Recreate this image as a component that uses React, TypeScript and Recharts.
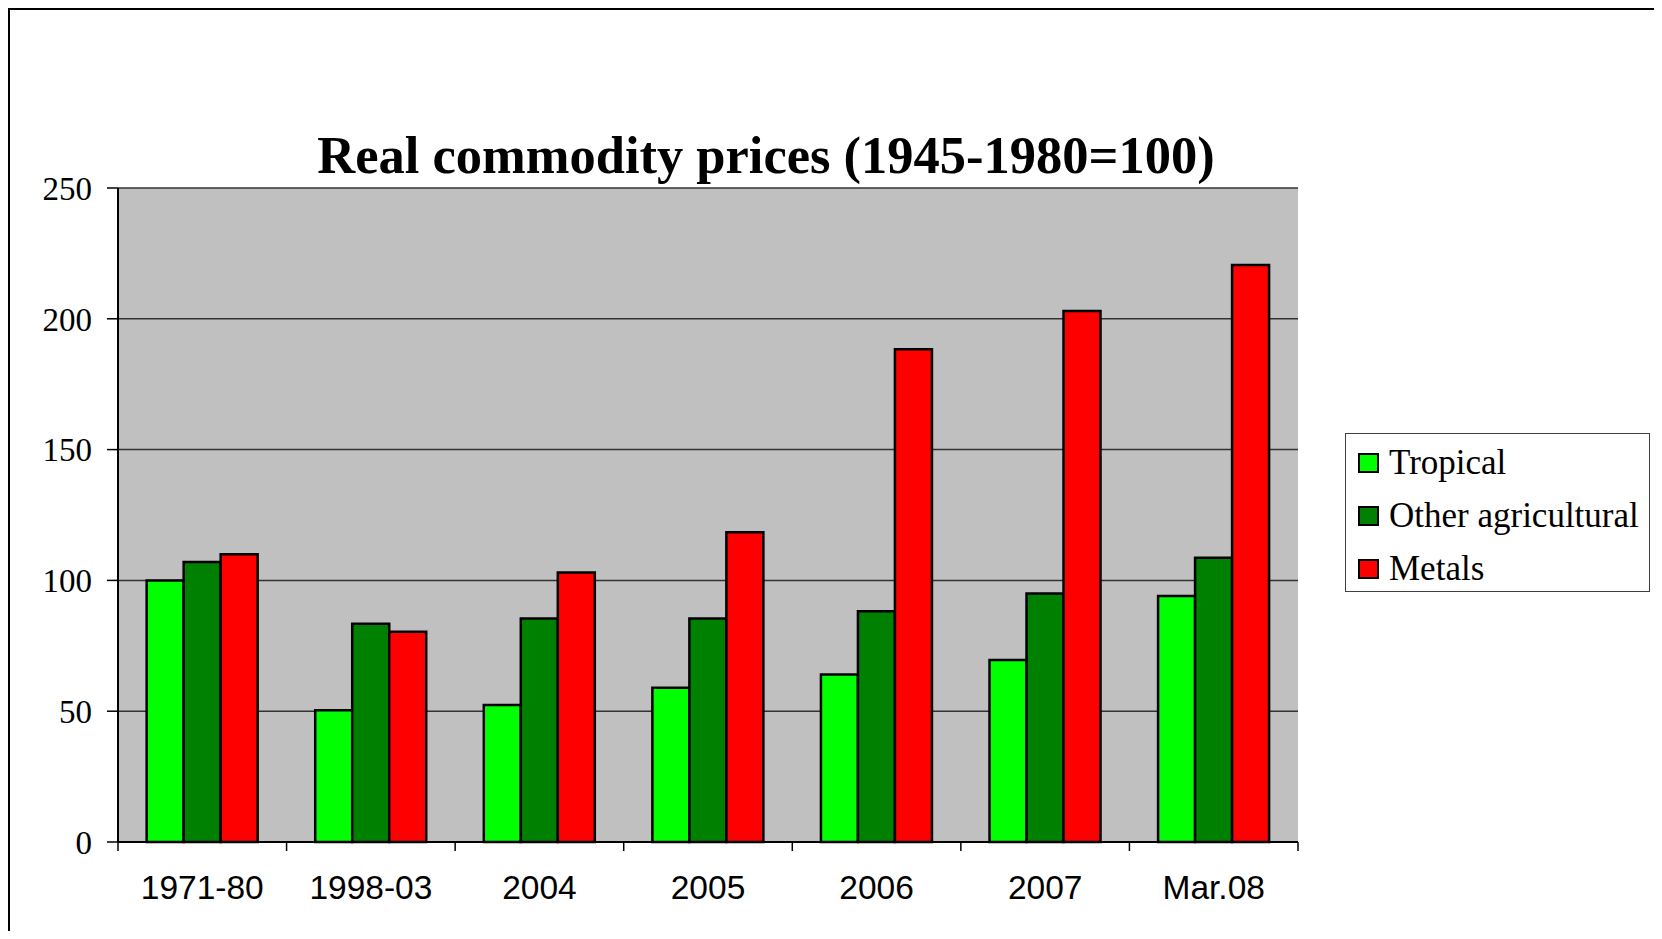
import { BarChart, Bar, XAxis, YAxis, CartesianGrid, Legend } from "recharts"

const periods = ["1971-80", "1998-03", "2004", "2005", "2006", "2007", "Mar.08"]
const tropical = [100, 50.4, 52.4, 59, 64, 69.6, 94]
const otherAgri = [107, 83.4, 85.4, 85.4, 88.2, 95, 108.7]
const metals = [110, 80.4, 103, 118.4, 188.4, 203, 220.6]
const seriesNames = ["Tropical", "Other agricultural", "Metals"]
const yTicks = [0, 50, 100, 150, 200, 250]

const data = periods.map((p, i) => ({
  period: p,
  tropical: tropical[i],
  other: otherAgri[i],
  metals: metals[i],
}))

const W = 1648
const H = 910
const M = { top: 178, right: 360, bottom: 18, left: 48 }
const Y_W = 60
const X_H = 60
const plotW = W - M.left - M.right - Y_W
const band = plotW / periods.length

function XTick(props: any) {
  const { x, y, payload, index } = props
  const last = index === periods.length - 1
  return (
    <g>
      <line x1={x - band / 2} x2={x - band / 2} y1={y} y2={y + 9} stroke="#000" strokeWidth={1.5} />
      {last && <line x1={x + band / 2} x2={x + band / 2} y1={y} y2={y + 9} stroke="#000" strokeWidth={1.5} />}
      <text x={x} y={y + 57} textAnchor="middle" fontFamily="Liberation Sans" fontSize={33.5} fill="#000">
        {payload.value}
      </text>
    </g>
  )
}

function LegendBox(props: any) {
  const items = [...(props.payload || [])].sort(
    (a: any, b: any) => seriesNames.indexOf(a.value) - seriesNames.indexOf(b.value)
  )
  return (
    <div style={{ border: "1px solid #404040", background: "#fff", width: 305, height: 159, boxSizing: "border-box", position: "relative" }}>
      {items.map((it: any, i: number) => (
        <div key={it.value} style={{ position: "absolute", left: 12, top: 29 + i * 53 - 20, height: 40, display: "flex", alignItems: "center" }}>
          <span style={{ width: 17, height: 16, background: it.color, border: "2px solid #000", display: "inline-block", marginRight: 10 }} />
          <span style={{ fontFamily: "Liberation Serif", fontSize: 35, color: "#000", whiteSpace: "nowrap" }}>{it.value}</span>
        </div>
      ))}
    </div>
  )
}

export default function App() {
  return (
    <div style={{ position: "relative", width: 1652, height: 935, marginBottom: -12, borderTop: "2px solid #000", borderLeft: "2px solid #000", borderRight: "2px solid #000", boxSizing: "border-box", overflow: "hidden" }}>
      <div style={{ position: "absolute", left: 756, top: 119, transform: "translateX(-50%)", fontFamily: "Liberation Serif", fontWeight: "bold", fontSize: 52.5, lineHeight: 1, whiteSpace: "nowrap", color: "#000" }}>
        Real commodity prices (1945-1980=100)
      </div>
      <div style={{ position: "absolute", left: 0, top: 0 }}>
        <BarChart width={W} height={H} data={data} margin={M} barCategoryGap="17%" barGap={0}>
          <CartesianGrid vertical={false} fill="#C0C0C0" stroke="#333" strokeWidth={1.5} strokeOpacity={1} />
          <XAxis dataKey="period" tick={<XTick />} tickLine={false} tickSize={0} tickMargin={0} height={X_H} axisLine={{ stroke: "#000", strokeWidth: 2 }} interval={0} />
          <XAxis xAxisId="top" dataKey="period" orientation="top" height={0} tick={false} tickLine={false} axisLine={{ stroke: "#808080", strokeWidth: 3.5 }} />
          <YAxis domain={[0, 250]} ticks={yTicks} width={Y_W} tickSize={11} tickMargin={15} tickLine={{ stroke: "#000", strokeWidth: 1.5 }} axisLine={{ stroke: "#000", strokeWidth: 2 }} tick={{ fill: "#000", fontSize: 33, fontFamily: "Liberation Serif" }} interval={0} />
          <YAxis yAxisId="r" orientation="right" width={0} domain={[0, 250]} tick={false} tickLine={false} axisLine={{ stroke: "#808080", strokeWidth: 3.5 }} />
          <Legend layout="vertical" align="center" verticalAlign="middle" content={<LegendBox />} wrapperStyle={{ position: "absolute", left: 1335, top: 423, width: 305, height: 159 }} />
          <Bar dataKey="tropical" name="Tropical" fill="#00FF00" stroke="#000" strokeWidth={2.5} isAnimationActive={false} />
          <Bar dataKey="other" name="Other agricultural" fill="#008000" stroke="#000" strokeWidth={2.5} isAnimationActive={false} />
          <Bar dataKey="metals" name="Metals" fill="#FF0000" stroke="#000" strokeWidth={2.5} isAnimationActive={false} />
        </BarChart>
      </div>
    </div>
  )
}
